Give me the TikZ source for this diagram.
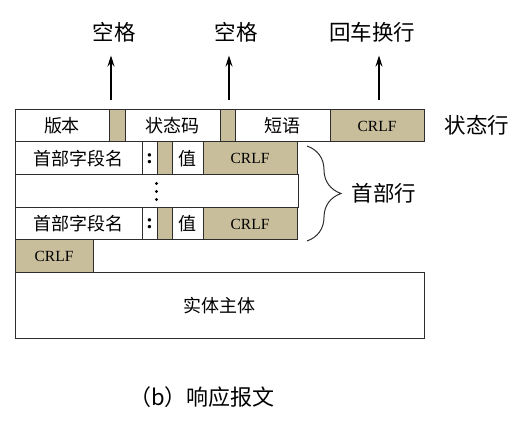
\documentclass[tikz,border=0pt]{standalone}
\usepackage{fontspec}
\setmainfont{Liberation Serif}
\newfontfamily\cjk{Noto Sans CJK SC}
\usetikzlibrary{arrows.meta, positioning, decorations.pathreplacing}
\definecolor{fieldtan}{RGB}{201,190,156}
\definecolor{edgegray}{RGB}{45,45,45}
\tikzset{
  cell/.style={draw=edgegray, line width=1pt, fill=white, inner sep=0pt, outer sep=0pt,
    minimum height=32pt, font=\cjk\fontsize{18}{18}\selectfont},
  tancell/.style={cell, fill=fieldtan},
  crlfcell/.style={tancell, font=\fontsize{15.5}{15.5}\selectfont},
  colcell/.style={cell, font=\bfseries\fontsize{21}{21}\selectfont},
  caption/.style={font=\cjk\fontsize{21.5}{21.5}\selectfont},
  uparrow/.style={-{Stealth[length=11pt,width=7pt]}, line width=1.2pt, shorten >=10pt},
}

\begin{document}
\begin{tikzpicture}[x=1pt, y=-1pt]
    \useasboundingbox (0,0) rectangle (523,441);

    % Status line
    \node[cell, minimum width=94pt, anchor=north west] (ver) at (15,110) {版本};
    \node[tancell, minimum width=16pt, right=0pt of ver] (gapa) {};
    \node[cell, minimum width=95pt, right=0pt of gapa] (code) {状态码};
    \node[tancell, minimum width=15pt, right=0pt of code] (gapb) {};
    \node[cell, minimum width=95pt, right=0pt of gapb] (phrase) {短语};
    \node[crlfcell, minimum width=94pt, right=0pt of phrase] (crlfa) {CRLF};
    \node[caption] (statusline) at (477,125) {状态行};

    % Labels above the status line
    \node[caption] (spa) at (114,32) {空格};
    \node[caption] (spb) at (236,32) {空格};
    \node[caption] (crlflbl) at (372,32) {回车换行};
    \coordinate (ta) at (111,100);
    \coordinate (tb) at (229,100);
    \coordinate (tc) at (379,100);
    \draw[uparrow] (ta) -- (ta |- spa.south);
    \draw[uparrow] (tb) -- (tb |- spb.south);
    \draw[uparrow] (tc) -- (tc |- crlflbl.south);

    % Header lines
    \node[cell, minimum width=127pt, minimum height=33pt, anchor=north west] (namea) at (ver.south west) {首部字段名};
    \node[colcell, minimum width=15pt, minimum height=33pt, right=0pt of namea] (cola) {:};
    \node[tancell, minimum width=15pt, minimum height=33pt, right=0pt of cola] (gapc) {};
    \node[cell, minimum width=31pt, minimum height=33pt, right=0pt of gapc] (vala) {值};
    \node[crlfcell, minimum width=94pt, minimum height=33pt, right=0pt of vala] (crlfb) {CRLF};

    \node[cell, minimum width=283pt, minimum height=33pt, anchor=north west] (dots) at (namea.south west) {};
    \foreach \dy in {-8,0,8}
        \fill[black] ([yshift=\dy pt]dots.center) circle (1.6pt);

    \node[cell, minimum width=127pt, anchor=north west] (nameb) at (dots.south west) {首部字段名};
    \node[colcell, minimum width=15pt, right=0pt of nameb] (colb) {:};
    \node[tancell, minimum width=15pt, right=0pt of colb] (gapd) {};
    \node[cell, minimum width=31pt, right=0pt of gapd] (valb) {值};
    \node[crlfcell, minimum width=94pt, right=0pt of valb] (crlfc) {CRLF};

    % Empty line and body
    \node[crlfcell, minimum width=78pt, minimum height=33pt, anchor=north west] (crlfd) at (nameb.south west) {CRLF};
    \node[cell, minimum width=409pt, minimum height=66pt, anchor=north west] (body) at (crlfd.south west) {实体主体};

    % Brace over the header lines
    \draw[decorate, decoration={brace, amplitude=34pt}, line width=1pt, edgegray] (307,146) -- (307,241);
    \node[caption] (headerline) at (384,193) {首部行};

    % Caption
    \node[caption, font=\cjk\fontsize{22}{22}\selectfont] (title) at (202,397) {（b）响应报文};
\end{tikzpicture}
\end{document}
